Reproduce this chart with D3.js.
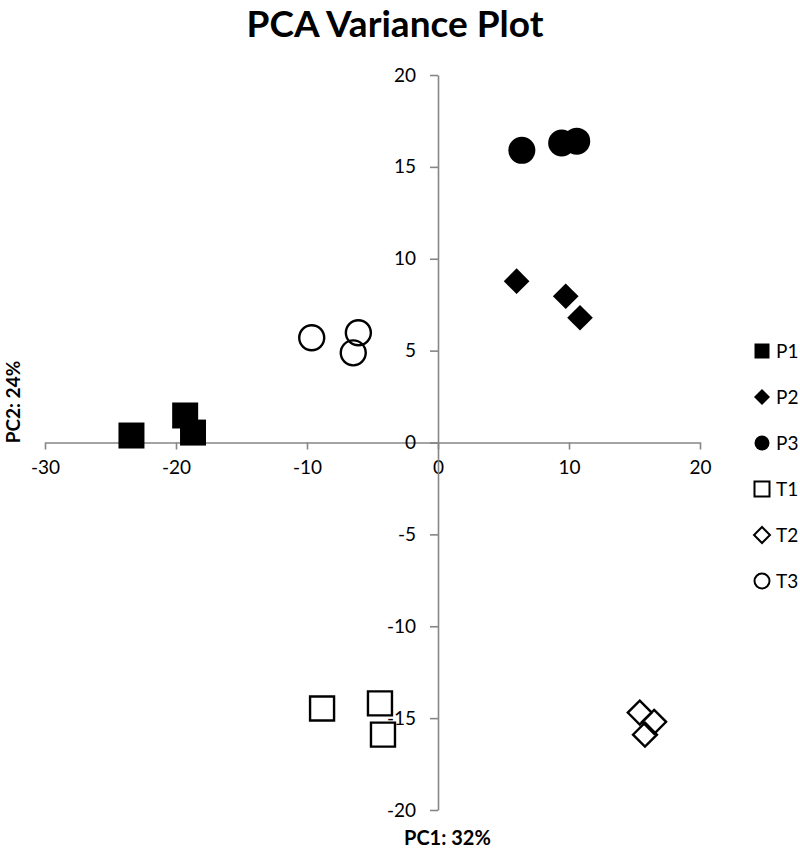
<!DOCTYPE html>
<html>
<head>
<meta charset="utf-8">
<script src="https://cdn.jsdelivr.net/npm/d3@7"></script>
<style>
  body { margin: 0; background: #fff; }
  svg { font-family: Lato, "Open Sans", sans-serif; }
</style>
</head>
<body>
<svg width="800" height="849"></svg>
<script>
const groups = ['P1', 'P2', 'P3', 'T1', 'T2', 'T3'];
const shapes = ['square', 'diamond', 'circle', 'square', 'diamond', 'circle'];
const filled = [true, true, true, false, false, false];

// PC1 / PC2 scores per group
const p1 = [[-23.4, 0.38], [-19.3, 1.47], [-18.7, 0.54]];
const p2 = [[6.0, 8.78], [9.75, 7.96], [10.84, 6.79]];
const p3 = [[6.4, 15.9], [9.44, 16.3], [10.59, 16.4]];
const t1 = [[-8.85, -14.48], [-4.43, -14.2], [-4.2, -15.9]];
const t2 = [[15.4, -14.7], [16.5, -15.2], [15.8, -15.9]];
const t3 = [[-9.64, 5.7], [-6.08, 5.97], [-6.47, 4.88]];
const seriesValues = [p1, p2, p3, t1, t2, t3];

const xTicks = [-30, -20, -10, 0, 10, 20];
const yTicks = [-20, -15, -10, -5, 0, 5, 10, 15, 20];

const svg = d3.select('svg');
const x = d3.scaleLinear().domain([-30, 20]).range([45, 700]);
const y = d3.scaleLinear().domain([-20, 20]).range([810, 75]);
const axisColor = '#868686';
const fmt = (d) => String(d);

svg.append('text')
  .attr('x', 395).attr('y', 37)
  .attr('text-anchor', 'middle')
  .attr('font-size', 37).attr('font-weight', 'bold')
  .text('PCA Variance Plot');

// horizontal axis at y = 0
const xAxis = svg.append('g')
  .attr('transform', `translate(0, ${y(0)})`)
  .call(d3.axisBottom(x).tickValues(xTicks).tickSize(7).tickSizeOuter(0).tickFormat(fmt));
xAxis.selectAll('text').attr('font-size', 19).attr('fill', '#000').attr('dy', '1.15em')
  .attr('font-family', 'Lato, "Open Sans", sans-serif');

// vertical axis at x = 0
const yAxis = svg.append('g')
  .attr('transform', `translate(${x(0)}, 0)`)
  .call(d3.axisLeft(y).tickValues(yTicks).tickSize(8).tickSizeOuter(0).tickFormat(fmt));
yAxis.selectAll('text').attr('font-size', 19).attr('fill', '#000').attr('x', -22)
  .attr('font-family', 'Lato, "Open Sans", sans-serif');

svg.selectAll('.domain, .tick line').attr('stroke', axisColor).attr('stroke-width', 1.6);

svg.append('text')
  .attr('x', 404).attr('y', 845)
  .attr('font-size', 20).attr('font-weight', 'bold')
  .text('PC1: 32%');

svg.append('text')
  .attr('transform', 'translate(20, 402) rotate(-90)')
  .attr('text-anchor', 'middle')
  .attr('font-size', 19).attr('font-weight', 'bold')
  .text('PC2: 24%');

const symbolPath = (shape, size) => {
  if (shape === 'square') return d3.symbol(d3.symbolSquare, size * size)();
  if (shape === 'circle') return d3.symbol(d3.symbolCircle, Math.PI * size * size / 4)();
  return d3.symbol(d3.symbolDiamond2, size * size / 2)();
};

const markerSizes = { square: 26, circle: 27, diamond: 29 };

groups.forEach((g, i) => {
  const shape = shapes[i];
  svg.append('g')
    .selectAll('path')
    .data(seriesValues[i])
    .enter()
    .append('path')
    .attr('d', symbolPath(shape, markerSizes[shape] - (filled[i] ? 0 : 2)))
    .attr('transform', (d) => `translate(${x(d[0])}, ${y(d[1])})`)
    .attr('fill', filled[i] ? '#000' : 'none')
    .attr('stroke', '#000')
    .attr('stroke-width', filled[i] ? 0 : 2.4);
});

// legend
const legend = svg.append('g').attr('transform', 'translate(762, 351)');
const items = legend.selectAll('g')
  .data(groups)
  .enter()
  .append('g')
  .attr('transform', (d, i) => `translate(0, ${i * 46})`);

items.append('path')
  .attr('d', (d, i) => symbolPath(shapes[i], shapes[i] === 'diamond' ? 18 : 15))
  .attr('fill', (d, i) => (filled[i] ? '#000' : 'none'))
  .attr('stroke', '#000')
  .attr('stroke-width', (d, i) => (filled[i] ? 0 : 2));

items.append('text')
  .attr('x', 14).attr('dy', '0.35em')
  .attr('font-size', 19)
  .text((d) => d);
</script>
</body>
</html>
